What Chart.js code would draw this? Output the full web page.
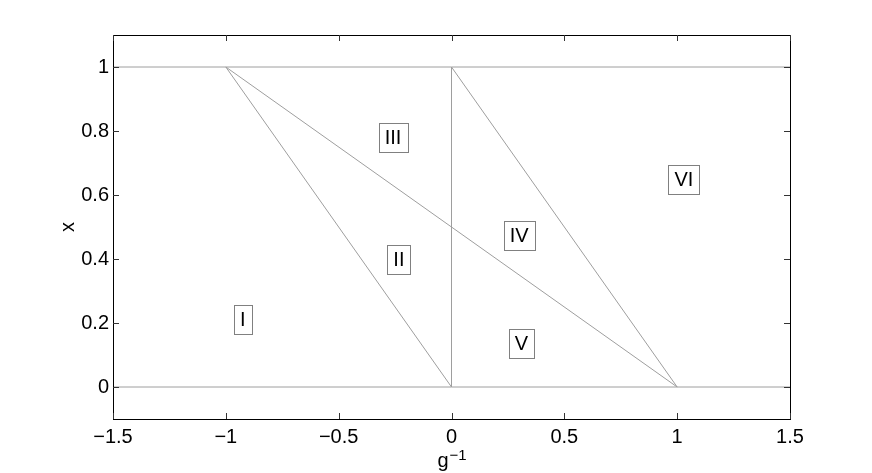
<!DOCTYPE html>
<html>
<head>
<meta charset="utf-8">
<script src="https://cdn.jsdelivr.net/npm/chart.js@4"></script>
<style>
  html, body { margin: 0; padding: 0; background: #fff; }
  #wrap { width: 872px; height: 473px; }
</style>
</head>
<body>
<div id="wrap"><canvas id="c" width="872" height="473"></canvas></div>
<script>
// ---- data ----
const boundaryX = [[-1.5, 1.5], [-1.5, 1.5], [-1, 0], [-1, 1], [0, 0], [0, 1]];
const boundaryY = [[1, 1], [0, 0], [1, 0], [1, 0], [0, 1], [1, 0]];
const regionNames = ['I', 'II', 'III', 'IV', 'V', 'VI'];
const regionX = [-0.925, -0.233, -0.259, 0.30, 0.31, 1.03];
const regionY = [0.21, 0.40, 0.78, 0.473, 0.136, 0.65];
const xTicks = [-1.5, -1, -0.5, 0, 0.5, 1, 1.5];
const yTicks = [0, 0.2, 0.4, 0.6, 0.8, 1];
const xRange = [-1.5, 1.5];
const yRange = [-0.1, 1.1];
const xTitle = 'g';
const xTitleSup = '\u22121';
const yTitle = 'x';

const FONT = "'Liberation Sans', Arial, Helvetica, sans-serif";
const fmt = v => (v < 0 ? '\u2212' : '') + String(Math.abs(v));

const datasets = boundaryX.map((xs, i) => ({
  data: xs.map((x, j) => ({ x: x, y: boundaryY[i][j] })),
  showLine: true,
  borderColor: '#9e9e9e',
  borderWidth: 1,
  pointRadius: 0,
  fill: false
}));

const decor = {
  id: 'decor',
  afterDatasetsDraw(chart) {
    const ctx = chart.ctx;
    const a = chart.chartArea;
    const xs = chart.scales.x, ys = chart.scales.y;
    ctx.save();
    // region label boxes
    ctx.font = '20px ' + FONT;
    ctx.textAlign = 'center';
    ctx.textBaseline = 'middle';
    regionNames.forEach((name, i) => {
      const px = xs.getPixelForValue(regionX[i]);
      const py = ys.getPixelForValue(regionY[i]);
      const w = Math.round(ctx.measureText(name).width + 12);
      const h = 29;
      const bx = Math.round(px - w / 2) + 0.5, by = Math.round(py - h / 2) + 0.5;
      ctx.fillStyle = '#fff';
      ctx.fillRect(bx, by, w, h);
      ctx.strokeStyle = '#808080';
      ctx.lineWidth = 1;
      ctx.strokeRect(bx, by, w, h);
      ctx.fillStyle = '#000';
      ctx.fillText(name, px, py + 1);
    });
    // box
    ctx.strokeStyle = '#000';
    ctx.lineWidth = 1;
    ctx.strokeRect(Math.round(a.left) + 0.5, Math.round(a.top) + 0.5,
                   Math.round(a.right - a.left), Math.round(a.bottom - a.top));
    // inner ticks
    const tl = 6;
    ctx.strokeStyle = '#333';
    ctx.beginPath();
    xTicks.forEach(v => {
      const p = Math.round(xs.getPixelForValue(v)) + 0.5;
      ctx.moveTo(p, a.bottom); ctx.lineTo(p, a.bottom - tl);
      ctx.moveTo(p, a.top); ctx.lineTo(p, a.top + tl);
    });
    yTicks.forEach(v => {
      const p = Math.round(ys.getPixelForValue(v)) + 0.5;
      ctx.moveTo(a.left, p); ctx.lineTo(a.left + tl, p);
      ctx.moveTo(a.right, p); ctx.lineTo(a.right - tl, p);
    });
    ctx.stroke();
    // x title with superscript
    ctx.fillStyle = '#000';
    ctx.textBaseline = 'alphabetic';
    ctx.textAlign = 'left';
    ctx.font = '20px ' + FONT;
    const gw = ctx.measureText(xTitle).width;
    ctx.font = '15px ' + FONT;
    const sw = ctx.measureText(xTitleSup).width;
    const cx = (a.left + a.right) / 2;
    const x0 = cx - (gw + sw) / 2;
    ctx.font = '20px ' + FONT;
    ctx.fillText(xTitle, x0, 467);
    ctx.font = '15px ' + FONT;
    ctx.fillText(xTitleSup, x0 + gw + 1, 460);
    // y title
    ctx.font = '20px ' + FONT;
    ctx.translate(68, (a.top + a.bottom) / 2);
    ctx.rotate(-Math.PI / 2);
    ctx.textAlign = 'center';
    ctx.textBaseline = 'middle';
    ctx.fillText(yTitle, 0, 0);
    ctx.restore();
  }
};

new Chart(document.getElementById('c'), {
  type: 'scatter',
  data: { datasets: datasets },
  options: {
    responsive: false,
    animation: false,
    layout: { padding: { left: 53, right: 82, top: 35, bottom: 0 } },
    plugins: { legend: { display: false }, tooltip: { enabled: false } },
    scales: {
      x: {
        type: 'linear',
        min: xRange[0], max: xRange[1],
        afterBuildTicks: s => { s.ticks = xTicks.map(v => ({ value: v })); },
        afterFit: s => { s.height = 54; },
        grid: { display: false, drawTicks: false },
        border: { display: false },
        ticks: { color: '#000', padding: 6, maxRotation: 0, autoSkip: false,
                 font: { family: FONT, size: 20 }, callback: v => fmt(v) }
      },
      y: {
        type: 'linear',
        min: yRange[0], max: yRange[1],
        afterBuildTicks: s => { s.ticks = yTicks.map(v => ({ value: v })); },
        afterFit: s => { s.width = 60; },
        grid: { display: false, drawTicks: false },
        border: { display: false },
        ticks: { color: '#000', padding: 4, autoSkip: false,
                 font: { family: FONT, size: 20 }, callback: v => fmt(v) }
      }
    }
  },
  plugins: [decor]
});
</script>
</body>
</html>
